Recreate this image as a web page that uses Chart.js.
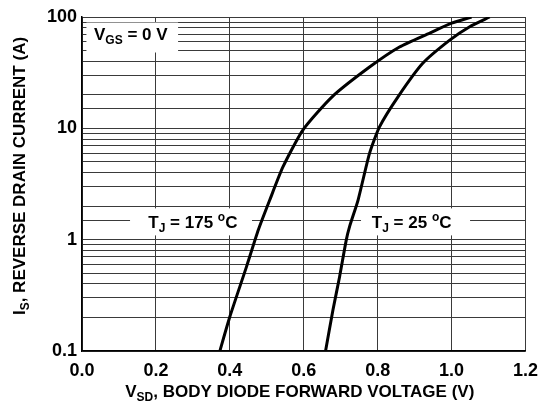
<!DOCTYPE html>
<html>
<head>
<meta charset="utf-8">
<script src="https://cdn.jsdelivr.net/npm/chart.js@4"></script>
<style>
  html, body { margin: 0; padding: 0; background: #fff; }
  #wrap { width: 547px; height: 407px; position: relative; }
</style>
</head>
<body>
<div id="wrap"><canvas id="diodeChart"></canvas></div>
<script>
// Tj = 175 C curve (left)
const vHot = [0.373, 0.400, 0.445, 0.477, 0.508, 0.544, 0.598, 0.676, 0.778, 0.859, 0.941, 1.000, 1.054];
const iHot = [0.1, 0.203, 0.57, 1.22, 2.27, 4.52, 9.7, 19.1, 35.5, 53.8, 71.8, 88, 100];
// Tj = 25 C curve (right)
const vCold = [0.659, 0.679, 0.697, 0.715, 0.724, 0.747, 0.778, 0.805, 0.855, 0.922, 0.995, 1.049, 1.103];
const iCold = [0.1, 0.233, 0.465, 0.99, 1.31, 2.27, 5.96, 10.3, 19.2, 38.4, 62, 81.8, 100];

const yLabels = [0.1, 1, 10, 100];
const FONT = '"Liberation Sans", Arial, sans-serif';

// draw text runs: [text, 'n'|'sub'|'sup']
function drawRuns(ctx, runs, x, y, size, align) {
    const small = Math.round(size * 0.72);
    let total = 0;
    runs.forEach(r => {
        ctx.font = 'bold ' + (r[1] === 'n' ? size : small) + 'px ' + FONT;
        total += ctx.measureText(r[0]).width;
    });
    let cx = align === 'center' ? x - total / 2 : x;
    ctx.textAlign = 'left';
    ctx.textBaseline = 'alphabetic';
    runs.forEach(r => {
        ctx.font = 'bold ' + (r[1] === 'n' ? size : small) + 'px ' + FONT;
        let dy = 0;
        if (r[1] === 'sub') dy = size * 0.22;
        if (r[1] === 'sup') dy = -size * 0.4;
        ctx.fillText(r[0], cx, y + dy);
        cx += ctx.measureText(r[0]).width;
    });
}

const notes = [
    { box: [0.012, 0.26, 91, 47], at: [0.132, 70], size: 17, runs: [['V', 'n'], ['GS', 'sub'], [' = 0 V', 'n']] },
    { box: [0.13, 0.46, 1.95, 1.07], at: [0.30, 1.45], size: 17, runs: [['T', 'n'], ['J', 'sub'], [' = 175 ', 'n'], ['o', 'sup'], ['C', 'n']] },
    { box: [0.755, 1.05, 1.95, 1.07], at: [0.892, 1.45], size: 17, runs: [['T', 'n'], ['J', 'sub'], [' = 25 ', 'n'], ['o', 'sup'], ['C', 'n']] }
];

const notesPlugin = {
    id: 'notes',
    beforeDatasetsDraw(chart) {
        const ctx = chart.ctx;
        const xs = chart.scales.x, ys = chart.scales.y;
        ctx.save();
        notes.forEach(n => {
            const x0 = xs.getPixelForValue(n.box[0]), x1 = xs.getPixelForValue(n.box[1]);
            const y0 = ys.getPixelForValue(n.box[2]), y1 = ys.getPixelForValue(n.box[3]);
            ctx.fillStyle = '#fff';
            ctx.fillRect(x0, y0 + 1, x1 - x0, y1 - y0 - 2);
        });
        ctx.fillStyle = '#000';
        notes.forEach(n => {
            const px = xs.getPixelForValue(n.at[0]);
            const py = ys.getPixelForValue(n.at[1]) + n.size * 0.36;
            drawRuns(ctx, n.runs, px, py, n.size, 'center');
        });
        ctx.restore();
    },
    afterDraw(chart) {
        const ctx = chart.ctx;
        const a = chart.chartArea;
        ctx.save();
        ctx.fillStyle = '#000';
        drawRuns(ctx, [['V', 'n'], ['SD', 'sub'], [', BODY DIODE FORWARD VOLTAGE (V)', 'n']], (a.left + a.right) / 2 - 4, 397, 17, 'center');
        ctx.translate(25, 176);
        ctx.rotate(-Math.PI / 2);
        drawRuns(ctx, [['I', 'n'], ['S', 'sub'], [', REVERSE DRAIN CURRENT (A)', 'n']], 0, 0, 17, 'center');
        ctx.restore();
    }
};

const lineStyle = { borderColor: '#000', borderWidth: 3, pointRadius: 0, fill: false, tension: 0.2, showLine: true };

new Chart(document.getElementById('diodeChart').getContext('2d'), {
    type: 'scatter',
    data: {
        datasets: [
            Object.assign({ label: 'TJ = 175 C', data: vHot.map((v, i) => ({ x: v, y: iHot[i] })) }, lineStyle),
            Object.assign({ label: 'TJ = 25 C', data: vCold.map((v, i) => ({ x: v, y: iCold[i] })) }, lineStyle)
        ]
    },
    options: {
        responsive: true,
        maintainAspectRatio: false,
        animation: false,
        layout: { padding: { top: 17, right: 21, left: 0, bottom: 0 } },
        plugins: { legend: { display: false }, tooltip: { enabled: false } },
        scales: {
            x: {
                type: 'linear',
                min: 0,
                max: 1.2,
                afterFit(scale) { scale.height = 56; },
                grid: { color: '#3a3a3a', lineWidth: 1, drawTicks: false },
                border: { color: '#000', width: 1.5 },
                ticks: {
                    stepSize: 0.2,
                    padding: 9,
                    color: '#000',
                    font: { family: FONT, size: 18, weight: 'bold' },
                    callback: v => v.toFixed(1)
                }
            },
            y: {
                type: 'logarithmic',
                min: 0.1,
                max: 100,
                afterFit(scale) { scale.width = 82; },
                grid: { color: '#3a3a3a', lineWidth: 1, drawTicks: false },
                border: { color: '#000', width: 1.5 },
                ticks: {
                    padding: 5,
                    color: '#000',
                    autoSkip: false,
                    font: { family: FONT, size: 18, weight: 'bold' },
                    callback: v => yLabels.some(l => Math.abs(l - v) < 1e-9) ? String(v) : ''
                }
            }
        }
    },
    plugins: [notesPlugin]
});
</script>
</body>
</html>
